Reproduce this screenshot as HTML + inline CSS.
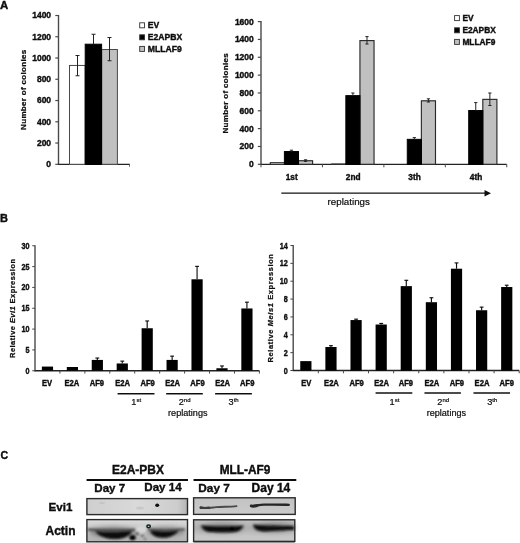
<!DOCTYPE html>
<html><head><meta charset="utf-8"><title>Figure</title>
<style>
html,body{margin:0;padding:0;background:#fff;}
body{width:520px;height:543px;overflow:hidden;font-family:"Liberation Sans",sans-serif;}
svg{display:block;}
svg text{font-family:"Liberation Sans",sans-serif;fill:#0a0a0a;}
svg text[font-weight="bold"]{stroke:#0a0a0a;stroke-width:0.35px;}
svg text.yt{stroke-width:0.22px;}
svg text[font-weight="normal"]{stroke:#0a0a0a;stroke-width:0.18px;}
</style></head>
<body>
<svg width="520" height="543" viewBox="0 0 520 543">
<defs>
<filter id="bl" x="-20%" y="-20%" width="140%" height="140%"><feGaussianBlur stdDeviation="0.5"/></filter>
<filter id="bl2" x="-20%" y="-40%" width="140%" height="180%"><feGaussianBlur stdDeviation="1.0"/></filter>
<filter id="bl3" x="-20%" y="-60%" width="140%" height="220%"><feGaussianBlur stdDeviation="2.2"/></filter>
<linearGradient id="gE1" x1="0" y1="0" x2="1" y2="0"><stop offset="0" stop-color="#cfcfcf"/><stop offset="0.5" stop-color="#d9d9d9"/><stop offset="0.9" stop-color="#cdcdcd"/><stop offset="1" stop-color="#b4b4b4"/></linearGradient>
<linearGradient id="gA1" x1="0" y1="0" x2="0" y2="1"><stop offset="0" stop-color="#dcdcdc"/><stop offset="0.45" stop-color="#c4c4c4"/><stop offset="1" stop-color="#b2b2b2"/></linearGradient>
<linearGradient id="gE2" x1="0" y1="0" x2="0" y2="1"><stop offset="0" stop-color="#c2c2c2"/><stop offset="1" stop-color="#cbcbcb"/></linearGradient>
<linearGradient id="gA2" x1="0" y1="0" x2="0" y2="1"><stop offset="0" stop-color="#c0c0c0"/><stop offset="0.35" stop-color="#b0b0b0"/><stop offset="0.7" stop-color="#c6c6c6"/><stop offset="0.93" stop-color="#c8c8c8"/><stop offset="0.94" stop-color="#a0a0a0"/><stop offset="1" stop-color="#a0a0a0"/></linearGradient>
<filter id="soft" x="0" y="0" width="100%" height="100%"><feGaussianBlur stdDeviation="0.35"/></filter>
</defs>
<rect x="0" y="0" width="520" height="543" fill="#fff"/>
<g filter="url(#soft)">
<text x="0.00" y="8.50" font-size="11.4" font-weight="bold" text-anchor="start" >A</text>
<line x1="58.50" y1="15.00" x2="58.50" y2="164.80" stroke="#4a4a4a" stroke-width="1.4"/>
<line x1="58.00" y1="164.30" x2="129.80" y2="164.30" stroke="#222" stroke-width="1.3"/>
<line x1="55.30" y1="164.30" x2="58.50" y2="164.30" stroke="#4a4a4a" stroke-width="1.2"/>
<text x="51.10" y="167.20" font-size="8.5" font-weight="bold" text-anchor="end" >0</text>
<line x1="55.30" y1="143.04" x2="58.50" y2="143.04" stroke="#4a4a4a" stroke-width="1.2"/>
<text x="51.10" y="145.94" font-size="8.5" font-weight="bold" text-anchor="end" >200</text>
<line x1="55.30" y1="121.79" x2="58.50" y2="121.79" stroke="#4a4a4a" stroke-width="1.2"/>
<text x="51.10" y="124.69" font-size="8.5" font-weight="bold" text-anchor="end" >400</text>
<line x1="55.30" y1="100.53" x2="58.50" y2="100.53" stroke="#4a4a4a" stroke-width="1.2"/>
<text x="51.10" y="103.43" font-size="8.5" font-weight="bold" text-anchor="end" >600</text>
<line x1="55.30" y1="79.27" x2="58.50" y2="79.27" stroke="#4a4a4a" stroke-width="1.2"/>
<text x="51.10" y="82.17" font-size="8.5" font-weight="bold" text-anchor="end" >800</text>
<line x1="55.30" y1="58.01" x2="58.50" y2="58.01" stroke="#4a4a4a" stroke-width="1.2"/>
<text x="51.10" y="60.91" font-size="8.5" font-weight="bold" text-anchor="end" >1000</text>
<line x1="55.30" y1="36.76" x2="58.50" y2="36.76" stroke="#4a4a4a" stroke-width="1.2"/>
<text x="51.10" y="39.66" font-size="8.5" font-weight="bold" text-anchor="end" >1200</text>
<line x1="55.30" y1="15.50" x2="58.50" y2="15.50" stroke="#4a4a4a" stroke-width="1.2"/>
<text x="51.10" y="18.40" font-size="8.5" font-weight="bold" text-anchor="end" >1400</text>
<line x1="129.50" y1="164.30" x2="129.50" y2="166.80" stroke="#4a4a4a" stroke-width="0.8"/>
<rect x="69.50" y="65.45" width="15.70" height="98.85" fill="#fff" stroke="#4a4a4a" stroke-width="1.0"/>
<rect x="101.60" y="49.51" width="15.80" height="114.79" fill="#c0c0c0" stroke="#4a4a4a" stroke-width="1.0"/>
<rect x="85.20" y="44.20" width="16.40" height="120.10" fill="#000" stroke="#000" stroke-width="1.0"/>
<line x1="77.50" y1="55.50" x2="77.50" y2="75.75" stroke="#222" stroke-width="1.0"/>
<line x1="75.50" y1="55.50" x2="79.50" y2="55.50" stroke="#222" stroke-width="1.0"/>
<line x1="75.50" y1="75.75" x2="79.50" y2="75.75" stroke="#222" stroke-width="1.0"/>
<line x1="93.50" y1="34.25" x2="93.50" y2="44.50" stroke="#222" stroke-width="1.0"/>
<line x1="91.50" y1="34.25" x2="95.50" y2="34.25" stroke="#222" stroke-width="1.0"/>
<line x1="109.50" y1="37.50" x2="109.50" y2="60.75" stroke="#222" stroke-width="1.0"/>
<line x1="107.50" y1="37.50" x2="111.50" y2="37.50" stroke="#222" stroke-width="1.0"/>
<line x1="107.50" y1="60.75" x2="111.50" y2="60.75" stroke="#222" stroke-width="1.0"/>
<text transform="translate(26.0,89.70) rotate(-90)" font-size="8.05" font-weight="bold" text-anchor="middle" letter-spacing="0.3" class="yt">Number of colonies</text>
<rect x="139.70" y="22.80" width="4.80" height="5.00" fill="#fff" stroke="#333" stroke-width="0.9"/>
<text x="147.80" y="28.40" font-size="8.6" font-weight="bold" text-anchor="start" >EV</text>
<rect x="139.70" y="34.80" width="4.80" height="5.00" fill="#000" stroke="#333" stroke-width="0.9"/>
<text x="147.80" y="40.40" font-size="8.6" font-weight="bold" text-anchor="start" >E2APBX</text>
<rect x="139.70" y="46.40" width="4.80" height="5.00" fill="#c0c0c0" stroke="#333" stroke-width="0.9"/>
<text x="147.80" y="52.00" font-size="8.6" font-weight="bold" text-anchor="start" >MLLAF9</text>
<line x1="261.00" y1="21.10" x2="261.00" y2="164.80" stroke="#4a4a4a" stroke-width="1.4"/>
<line x1="260.50" y1="164.30" x2="506.75" y2="164.30" stroke="#222" stroke-width="1.3"/>
<line x1="257.80" y1="164.30" x2="261.00" y2="164.30" stroke="#4a4a4a" stroke-width="1.2"/>
<text x="253.80" y="167.20" font-size="8.5" font-weight="bold" text-anchor="end" >0</text>
<line x1="257.80" y1="146.46" x2="261.00" y2="146.46" stroke="#4a4a4a" stroke-width="1.2"/>
<text x="253.80" y="149.36" font-size="8.5" font-weight="bold" text-anchor="end" >200</text>
<line x1="257.80" y1="128.62" x2="261.00" y2="128.62" stroke="#4a4a4a" stroke-width="1.2"/>
<text x="253.80" y="131.53" font-size="8.5" font-weight="bold" text-anchor="end" >400</text>
<line x1="257.80" y1="110.79" x2="261.00" y2="110.79" stroke="#4a4a4a" stroke-width="1.2"/>
<text x="253.80" y="113.69" font-size="8.5" font-weight="bold" text-anchor="end" >600</text>
<line x1="257.80" y1="92.95" x2="261.00" y2="92.95" stroke="#4a4a4a" stroke-width="1.2"/>
<text x="253.80" y="95.85" font-size="8.5" font-weight="bold" text-anchor="end" >800</text>
<line x1="257.80" y1="75.11" x2="261.00" y2="75.11" stroke="#4a4a4a" stroke-width="1.2"/>
<text x="253.80" y="78.01" font-size="8.5" font-weight="bold" text-anchor="end" >1000</text>
<line x1="257.80" y1="57.27" x2="261.00" y2="57.27" stroke="#4a4a4a" stroke-width="1.2"/>
<text x="253.80" y="60.17" font-size="8.5" font-weight="bold" text-anchor="end" >1200</text>
<line x1="257.80" y1="39.44" x2="261.00" y2="39.44" stroke="#4a4a4a" stroke-width="1.2"/>
<text x="253.80" y="42.34" font-size="8.5" font-weight="bold" text-anchor="end" >1400</text>
<line x1="257.80" y1="21.60" x2="261.00" y2="21.60" stroke="#4a4a4a" stroke-width="1.2"/>
<text x="253.80" y="24.50" font-size="8.5" font-weight="bold" text-anchor="end" >1600</text>
<line x1="261.00" y1="164.30" x2="261.00" y2="167.30" stroke="#4a4a4a" stroke-width="1"/>
<line x1="322.44" y1="164.30" x2="322.44" y2="167.30" stroke="#4a4a4a" stroke-width="1"/>
<line x1="383.88" y1="164.30" x2="383.88" y2="167.30" stroke="#4a4a4a" stroke-width="1"/>
<line x1="445.31" y1="164.30" x2="445.31" y2="167.30" stroke="#4a4a4a" stroke-width="1"/>
<line x1="506.75" y1="164.30" x2="506.75" y2="167.30" stroke="#4a4a4a" stroke-width="1"/>
<text transform="translate(228.0,93.25) rotate(-90)" font-size="8.05" font-weight="bold" text-anchor="middle" letter-spacing="0.3" class="yt">Number of colonies</text>
<rect x="270.30" y="162.69" width="14.10" height="1.61" fill="#fff" stroke="#2a2a2a" stroke-width="1.1"/>
<rect x="298.50" y="160.73" width="14.10" height="3.57" fill="#c0c0c0" stroke="#2a2a2a" stroke-width="1.15"/>
<rect x="284.40" y="151.55" width="14.10" height="12.75" fill="#000" stroke="#000" stroke-width="1.0"/>
<line x1="291.45" y1="150.20" x2="291.45" y2="152.00" stroke="#222" stroke-width="1.0"/>
<line x1="289.85" y1="150.20" x2="293.05" y2="150.20" stroke="#222" stroke-width="1.0"/>
<line x1="305.55" y1="159.80" x2="305.55" y2="161.40" stroke="#222" stroke-width="1.0"/>
<line x1="303.95" y1="159.80" x2="307.15" y2="159.80" stroke="#222" stroke-width="1.0"/>
<line x1="303.95" y1="161.40" x2="307.15" y2="161.40" stroke="#222" stroke-width="1.0"/>
<text x="291.72" y="180.40" font-size="8.3" font-weight="bold" text-anchor="middle" >1st</text>
<rect x="331.74" y="164.03" width="14.10" height="0.27" fill="#fff" stroke="#2a2a2a" stroke-width="1.1"/>
<rect x="359.94" y="40.60" width="14.10" height="123.70" fill="#c0c0c0" stroke="#2a2a2a" stroke-width="1.15"/>
<rect x="345.84" y="95.63" width="14.10" height="68.67" fill="#000" stroke="#000" stroke-width="1.0"/>
<line x1="352.89" y1="93.00" x2="352.89" y2="96.00" stroke="#222" stroke-width="1.0"/>
<line x1="351.29" y1="93.00" x2="354.49" y2="93.00" stroke="#222" stroke-width="1.0"/>
<line x1="366.99" y1="36.60" x2="366.99" y2="44.00" stroke="#222" stroke-width="1.0"/>
<line x1="365.39" y1="36.60" x2="368.59" y2="36.60" stroke="#222" stroke-width="1.0"/>
<line x1="365.39" y1="44.00" x2="368.59" y2="44.00" stroke="#222" stroke-width="1.0"/>
<text x="353.16" y="180.40" font-size="8.3" font-weight="bold" text-anchor="middle" >2nd</text>
<rect x="421.38" y="100.80" width="14.10" height="63.50" fill="#c0c0c0" stroke="#2a2a2a" stroke-width="1.15"/>
<rect x="407.28" y="139.33" width="14.10" height="24.97" fill="#000" stroke="#000" stroke-width="1.0"/>
<line x1="414.32" y1="137.60" x2="414.32" y2="140.00" stroke="#222" stroke-width="1.0"/>
<line x1="412.72" y1="137.60" x2="415.93" y2="137.60" stroke="#222" stroke-width="1.0"/>
<line x1="428.43" y1="98.80" x2="428.43" y2="102.00" stroke="#222" stroke-width="1.0"/>
<line x1="426.82" y1="98.80" x2="430.03" y2="98.80" stroke="#222" stroke-width="1.0"/>
<line x1="426.82" y1="102.00" x2="430.03" y2="102.00" stroke="#222" stroke-width="1.0"/>
<text x="414.59" y="180.40" font-size="8.3" font-weight="bold" text-anchor="middle" >3th</text>
<rect x="482.81" y="99.37" width="14.10" height="64.93" fill="#c0c0c0" stroke="#2a2a2a" stroke-width="1.15"/>
<rect x="468.71" y="110.52" width="14.10" height="53.78" fill="#000" stroke="#000" stroke-width="1.0"/>
<line x1="475.76" y1="102.60" x2="475.76" y2="111.00" stroke="#222" stroke-width="1.0"/>
<line x1="474.16" y1="102.60" x2="477.36" y2="102.60" stroke="#222" stroke-width="1.0"/>
<line x1="489.86" y1="93.00" x2="489.86" y2="105.50" stroke="#222" stroke-width="1.0"/>
<line x1="488.26" y1="93.00" x2="491.46" y2="93.00" stroke="#222" stroke-width="1.0"/>
<line x1="488.26" y1="105.50" x2="491.46" y2="105.50" stroke="#222" stroke-width="1.0"/>
<text x="476.03" y="180.40" font-size="8.3" font-weight="bold" text-anchor="middle" >4th</text>
<rect x="454.60" y="15.60" width="4.80" height="5.00" fill="#fff" stroke="#333" stroke-width="0.9"/>
<text x="462.40" y="21.20" font-size="8.35" font-weight="bold" text-anchor="start" >EV</text>
<rect x="454.60" y="27.80" width="4.80" height="5.00" fill="#000" stroke="#333" stroke-width="0.9"/>
<text x="462.40" y="33.40" font-size="8.35" font-weight="bold" text-anchor="start" >E2APBX</text>
<rect x="454.60" y="39.40" width="4.80" height="5.00" fill="#c0c0c0" stroke="#333" stroke-width="0.9"/>
<text x="462.40" y="45.00" font-size="8.35" font-weight="bold" text-anchor="start" >MLLAF9</text>
<line x1="281.30" y1="193.20" x2="486.00" y2="193.20" stroke="#111" stroke-width="1.2"/>
<polygon points="484.5,190.0 491,193.2 484.5,196.5" fill="#111"/>
<text x="327.60" y="204.80" font-size="9.75" font-weight="normal" text-anchor="start" >replatings</text>
<text x="0.10" y="221.80" font-size="11" font-weight="bold" text-anchor="start" >B</text>
<line x1="35.00" y1="245.25" x2="35.00" y2="371.25" stroke="#4a4a4a" stroke-width="1.4"/>
<line x1="34.50" y1="370.75" x2="259.40" y2="370.75" stroke="#222" stroke-width="1.3"/>
<line x1="32.20" y1="370.75" x2="35.00" y2="370.75" stroke="#4a4a4a" stroke-width="1"/>
<text x="29.60" y="373.75" font-size="8.4" font-weight="bold" text-anchor="end"  textLength="4.02" lengthAdjust="spacingAndGlyphs">0</text>
<line x1="32.20" y1="349.92" x2="35.00" y2="349.92" stroke="#4a4a4a" stroke-width="1"/>
<text x="29.60" y="352.92" font-size="8.4" font-weight="bold" text-anchor="end"  textLength="4.02" lengthAdjust="spacingAndGlyphs">5</text>
<line x1="32.20" y1="329.08" x2="35.00" y2="329.08" stroke="#4a4a4a" stroke-width="1"/>
<text x="29.60" y="332.08" font-size="8.4" font-weight="bold" text-anchor="end"  textLength="8.04" lengthAdjust="spacingAndGlyphs">10</text>
<line x1="32.20" y1="308.25" x2="35.00" y2="308.25" stroke="#4a4a4a" stroke-width="1"/>
<text x="29.60" y="311.25" font-size="8.4" font-weight="bold" text-anchor="end"  textLength="8.04" lengthAdjust="spacingAndGlyphs">15</text>
<line x1="32.20" y1="287.42" x2="35.00" y2="287.42" stroke="#4a4a4a" stroke-width="1"/>
<text x="29.60" y="290.42" font-size="8.4" font-weight="bold" text-anchor="end"  textLength="8.04" lengthAdjust="spacingAndGlyphs">20</text>
<line x1="32.20" y1="266.58" x2="35.00" y2="266.58" stroke="#4a4a4a" stroke-width="1"/>
<text x="29.60" y="269.58" font-size="8.4" font-weight="bold" text-anchor="end"  textLength="8.04" lengthAdjust="spacingAndGlyphs">25</text>
<line x1="32.20" y1="245.75" x2="35.00" y2="245.75" stroke="#4a4a4a" stroke-width="1"/>
<text x="29.60" y="248.75" font-size="8.4" font-weight="bold" text-anchor="end"  textLength="8.04" lengthAdjust="spacingAndGlyphs">30</text>
<line x1="59.93" y1="370.75" x2="59.93" y2="373.55" stroke="#4a4a4a" stroke-width="1"/>
<line x1="84.87" y1="370.75" x2="84.87" y2="373.55" stroke="#4a4a4a" stroke-width="1"/>
<line x1="109.80" y1="370.75" x2="109.80" y2="373.55" stroke="#4a4a4a" stroke-width="1"/>
<line x1="134.73" y1="370.75" x2="134.73" y2="373.55" stroke="#4a4a4a" stroke-width="1"/>
<line x1="159.67" y1="370.75" x2="159.67" y2="373.55" stroke="#4a4a4a" stroke-width="1"/>
<line x1="184.60" y1="370.75" x2="184.60" y2="373.55" stroke="#4a4a4a" stroke-width="1"/>
<line x1="209.53" y1="370.75" x2="209.53" y2="373.55" stroke="#4a4a4a" stroke-width="1"/>
<line x1="234.47" y1="370.75" x2="234.47" y2="373.55" stroke="#4a4a4a" stroke-width="1"/>
<line x1="259.40" y1="370.75" x2="259.40" y2="373.55" stroke="#4a4a4a" stroke-width="1"/>
<rect x="41.87" y="366.58" width="11.20" height="4.17" fill="#000"/>
<text x="46.97" y="386.35" font-size="8.15" font-weight="bold" text-anchor="middle"  textLength="10.17" lengthAdjust="spacingAndGlyphs">EV</text>
<rect x="66.80" y="367.00" width="11.20" height="3.75" fill="#000"/>
<text x="71.90" y="386.35" font-size="8.15" font-weight="bold" text-anchor="middle"  textLength="14.82" lengthAdjust="spacingAndGlyphs">E2A</text>
<rect x="91.73" y="359.92" width="11.20" height="10.83" fill="#000"/>
<line x1="97.33" y1="358.04" x2="97.33" y2="359.92" stroke="#111" stroke-width="1.15"/>
<line x1="95.43" y1="358.04" x2="99.23" y2="358.04" stroke="#111" stroke-width="1.15"/>
<text x="96.83" y="386.35" font-size="8.15" font-weight="bold" text-anchor="middle"  textLength="14.40" lengthAdjust="spacingAndGlyphs">AF9</text>
<rect x="116.67" y="363.46" width="11.20" height="7.29" fill="#000"/>
<line x1="122.27" y1="361.17" x2="122.27" y2="363.46" stroke="#111" stroke-width="1.15"/>
<line x1="120.37" y1="361.17" x2="124.17" y2="361.17" stroke="#111" stroke-width="1.15"/>
<text x="122.67" y="386.35" font-size="8.15" font-weight="bold" text-anchor="middle"  textLength="14.82" lengthAdjust="spacingAndGlyphs">E2A</text>
<rect x="141.60" y="328.25" width="11.20" height="42.50" fill="#000"/>
<line x1="147.20" y1="320.96" x2="147.20" y2="328.25" stroke="#111" stroke-width="1.15"/>
<line x1="145.30" y1="320.96" x2="149.10" y2="320.96" stroke="#111" stroke-width="1.15"/>
<text x="147.60" y="386.35" font-size="8.15" font-weight="bold" text-anchor="middle"  textLength="14.40" lengthAdjust="spacingAndGlyphs">AF9</text>
<rect x="166.53" y="359.92" width="11.20" height="10.83" fill="#000"/>
<line x1="172.13" y1="356.17" x2="172.13" y2="359.92" stroke="#111" stroke-width="1.15"/>
<line x1="170.23" y1="356.17" x2="174.03" y2="356.17" stroke="#111" stroke-width="1.15"/>
<text x="172.63" y="386.35" font-size="8.15" font-weight="bold" text-anchor="middle"  textLength="14.82" lengthAdjust="spacingAndGlyphs">E2A</text>
<rect x="191.47" y="279.29" width="11.20" height="91.46" fill="#000"/>
<line x1="197.07" y1="266.38" x2="197.07" y2="279.29" stroke="#111" stroke-width="1.15"/>
<line x1="195.17" y1="266.38" x2="198.97" y2="266.38" stroke="#111" stroke-width="1.15"/>
<text x="197.57" y="386.35" font-size="8.15" font-weight="bold" text-anchor="middle"  textLength="14.40" lengthAdjust="spacingAndGlyphs">AF9</text>
<rect x="216.40" y="368.25" width="11.20" height="2.50" fill="#000"/>
<line x1="222.00" y1="365.96" x2="222.00" y2="368.25" stroke="#111" stroke-width="1.15"/>
<line x1="220.10" y1="365.96" x2="223.90" y2="365.96" stroke="#111" stroke-width="1.15"/>
<text x="222.60" y="386.35" font-size="8.15" font-weight="bold" text-anchor="middle"  textLength="14.82" lengthAdjust="spacingAndGlyphs">E2A</text>
<rect x="241.33" y="308.46" width="11.20" height="62.29" fill="#000"/>
<line x1="246.93" y1="302.21" x2="246.93" y2="308.46" stroke="#111" stroke-width="1.15"/>
<line x1="245.03" y1="302.21" x2="248.83" y2="302.21" stroke="#111" stroke-width="1.15"/>
<text x="247.23" y="386.35" font-size="8.15" font-weight="bold" text-anchor="middle"  textLength="14.40" lengthAdjust="spacingAndGlyphs">AF9</text>
<line x1="117.60" y1="393.75" x2="154.50" y2="393.75" stroke="#111" stroke-width="1.5"/>
<text x="136.15" y="405.35" font-size="9.2" font-weight="normal" text-anchor="middle">1<tspan font-size="6.0" dy="-2.9">st</tspan></text>
<line x1="166.20" y1="393.75" x2="202.80" y2="393.75" stroke="#111" stroke-width="1.5"/>
<text x="184.60" y="405.35" font-size="9.2" font-weight="normal" text-anchor="middle">2<tspan font-size="6.0" dy="-2.9">nd</tspan></text>
<line x1="215.10" y1="393.75" x2="251.90" y2="393.75" stroke="#111" stroke-width="1.5"/>
<text x="233.60" y="405.35" font-size="9.2" font-weight="normal" text-anchor="middle">3<tspan font-size="6.0" dy="-2.9">th</tspan></text>
<text x="187.80" y="416.35" font-size="9.1" font-weight="normal" text-anchor="middle" >replatings</text>
<text transform="translate(15.2,308.25) rotate(-90)" font-size="7.45" font-weight="bold" text-anchor="middle" letter-spacing="0.47" class="yt">Relative <tspan font-style="italic">Evi1</tspan> Expression</text>
<line x1="293.20" y1="245.00" x2="293.20" y2="371.00" stroke="#4a4a4a" stroke-width="1.4"/>
<line x1="292.70" y1="370.50" x2="519.20" y2="370.50" stroke="#222" stroke-width="1.3"/>
<line x1="290.40" y1="370.50" x2="293.20" y2="370.50" stroke="#4a4a4a" stroke-width="1"/>
<text x="287.80" y="373.50" font-size="8.4" font-weight="bold" text-anchor="end"  textLength="4.02" lengthAdjust="spacingAndGlyphs">0</text>
<line x1="290.40" y1="352.64" x2="293.20" y2="352.64" stroke="#4a4a4a" stroke-width="1"/>
<text x="287.80" y="355.64" font-size="8.4" font-weight="bold" text-anchor="end"  textLength="4.02" lengthAdjust="spacingAndGlyphs">2</text>
<line x1="290.40" y1="334.79" x2="293.20" y2="334.79" stroke="#4a4a4a" stroke-width="1"/>
<text x="287.80" y="337.79" font-size="8.4" font-weight="bold" text-anchor="end"  textLength="4.02" lengthAdjust="spacingAndGlyphs">4</text>
<line x1="290.40" y1="316.93" x2="293.20" y2="316.93" stroke="#4a4a4a" stroke-width="1"/>
<text x="287.80" y="319.93" font-size="8.4" font-weight="bold" text-anchor="end"  textLength="4.02" lengthAdjust="spacingAndGlyphs">6</text>
<line x1="290.40" y1="299.07" x2="293.20" y2="299.07" stroke="#4a4a4a" stroke-width="1"/>
<text x="287.80" y="302.07" font-size="8.4" font-weight="bold" text-anchor="end"  textLength="4.02" lengthAdjust="spacingAndGlyphs">8</text>
<line x1="290.40" y1="281.21" x2="293.20" y2="281.21" stroke="#4a4a4a" stroke-width="1"/>
<text x="287.80" y="284.21" font-size="8.4" font-weight="bold" text-anchor="end"  textLength="8.04" lengthAdjust="spacingAndGlyphs">10</text>
<line x1="290.40" y1="263.36" x2="293.20" y2="263.36" stroke="#4a4a4a" stroke-width="1"/>
<text x="287.80" y="266.36" font-size="8.4" font-weight="bold" text-anchor="end"  textLength="8.04" lengthAdjust="spacingAndGlyphs">12</text>
<line x1="290.40" y1="245.50" x2="293.20" y2="245.50" stroke="#4a4a4a" stroke-width="1"/>
<text x="287.80" y="248.50" font-size="8.4" font-weight="bold" text-anchor="end"  textLength="8.04" lengthAdjust="spacingAndGlyphs">14</text>
<line x1="318.31" y1="370.50" x2="318.31" y2="373.30" stroke="#4a4a4a" stroke-width="1"/>
<line x1="343.42" y1="370.50" x2="343.42" y2="373.30" stroke="#4a4a4a" stroke-width="1"/>
<line x1="368.53" y1="370.50" x2="368.53" y2="373.30" stroke="#4a4a4a" stroke-width="1"/>
<line x1="393.64" y1="370.50" x2="393.64" y2="373.30" stroke="#4a4a4a" stroke-width="1"/>
<line x1="418.76" y1="370.50" x2="418.76" y2="373.30" stroke="#4a4a4a" stroke-width="1"/>
<line x1="443.87" y1="370.50" x2="443.87" y2="373.30" stroke="#4a4a4a" stroke-width="1"/>
<line x1="468.98" y1="370.50" x2="468.98" y2="373.30" stroke="#4a4a4a" stroke-width="1"/>
<line x1="494.09" y1="370.50" x2="494.09" y2="373.30" stroke="#4a4a4a" stroke-width="1"/>
<line x1="519.20" y1="370.50" x2="519.20" y2="373.30" stroke="#4a4a4a" stroke-width="1"/>
<rect x="300.26" y="361.12" width="11.20" height="9.38" fill="#000"/>
<text x="306.36" y="386.10" font-size="8.15" font-weight="bold" text-anchor="middle"  textLength="10.17" lengthAdjust="spacingAndGlyphs">EV</text>
<rect x="325.37" y="347.02" width="11.20" height="23.48" fill="#000"/>
<line x1="330.97" y1="345.68" x2="330.97" y2="347.02" stroke="#111" stroke-width="1.15"/>
<line x1="329.07" y1="345.68" x2="332.87" y2="345.68" stroke="#111" stroke-width="1.15"/>
<text x="331.47" y="386.10" font-size="8.15" font-weight="bold" text-anchor="middle"  textLength="14.82" lengthAdjust="spacingAndGlyphs">E2A</text>
<rect x="350.48" y="320.05" width="11.20" height="50.45" fill="#000"/>
<line x1="356.08" y1="319.16" x2="356.08" y2="320.05" stroke="#111" stroke-width="1.15"/>
<line x1="354.18" y1="319.16" x2="357.98" y2="319.16" stroke="#111" stroke-width="1.15"/>
<text x="356.58" y="386.10" font-size="8.15" font-weight="bold" text-anchor="middle"  textLength="14.40" lengthAdjust="spacingAndGlyphs">AF9</text>
<rect x="375.59" y="324.52" width="11.20" height="45.98" fill="#000"/>
<line x1="381.19" y1="323.45" x2="381.19" y2="324.52" stroke="#111" stroke-width="1.15"/>
<line x1="379.29" y1="323.45" x2="383.09" y2="323.45" stroke="#111" stroke-width="1.15"/>
<text x="381.59" y="386.10" font-size="8.15" font-weight="bold" text-anchor="middle"  textLength="14.82" lengthAdjust="spacingAndGlyphs">E2A</text>
<rect x="400.70" y="286.12" width="11.20" height="84.38" fill="#000"/>
<line x1="406.30" y1="280.32" x2="406.30" y2="286.12" stroke="#111" stroke-width="1.15"/>
<line x1="404.40" y1="280.32" x2="408.20" y2="280.32" stroke="#111" stroke-width="1.15"/>
<text x="405.90" y="386.10" font-size="8.15" font-weight="bold" text-anchor="middle"  textLength="14.40" lengthAdjust="spacingAndGlyphs">AF9</text>
<rect x="425.81" y="302.20" width="11.20" height="68.30" fill="#000"/>
<line x1="431.41" y1="297.73" x2="431.41" y2="302.20" stroke="#111" stroke-width="1.15"/>
<line x1="429.51" y1="297.73" x2="433.31" y2="297.73" stroke="#111" stroke-width="1.15"/>
<text x="431.81" y="386.10" font-size="8.15" font-weight="bold" text-anchor="middle"  textLength="14.82" lengthAdjust="spacingAndGlyphs">E2A</text>
<rect x="450.92" y="268.71" width="11.20" height="101.79" fill="#000"/>
<line x1="456.52" y1="262.91" x2="456.52" y2="268.71" stroke="#111" stroke-width="1.15"/>
<line x1="454.62" y1="262.91" x2="458.42" y2="262.91" stroke="#111" stroke-width="1.15"/>
<text x="456.92" y="386.10" font-size="8.15" font-weight="bold" text-anchor="middle"  textLength="14.40" lengthAdjust="spacingAndGlyphs">AF9</text>
<rect x="476.03" y="310.23" width="11.20" height="60.27" fill="#000"/>
<line x1="481.63" y1="307.11" x2="481.63" y2="310.23" stroke="#111" stroke-width="1.15"/>
<line x1="479.73" y1="307.11" x2="483.53" y2="307.11" stroke="#111" stroke-width="1.15"/>
<text x="482.03" y="386.10" font-size="8.15" font-weight="bold" text-anchor="middle"  textLength="14.82" lengthAdjust="spacingAndGlyphs">E2A</text>
<rect x="501.14" y="287.02" width="11.20" height="83.48" fill="#000"/>
<line x1="506.74" y1="285.23" x2="506.74" y2="287.02" stroke="#111" stroke-width="1.15"/>
<line x1="504.84" y1="285.23" x2="508.64" y2="285.23" stroke="#111" stroke-width="1.15"/>
<text x="506.74" y="386.10" font-size="8.15" font-weight="bold" text-anchor="middle"  textLength="14.40" lengthAdjust="spacingAndGlyphs">AF9</text>
<line x1="375.60" y1="392.90" x2="412.30" y2="392.90" stroke="#111" stroke-width="1.5"/>
<text x="394.45" y="404.50" font-size="9.2" font-weight="normal" text-anchor="middle">1<tspan font-size="6.0" dy="-2.9">st</tspan></text>
<line x1="424.50" y1="392.90" x2="460.90" y2="392.90" stroke="#111" stroke-width="1.5"/>
<text x="443.20" y="404.50" font-size="9.2" font-weight="normal" text-anchor="middle">2<tspan font-size="6.0" dy="-2.9">nd</tspan></text>
<line x1="473.50" y1="392.90" x2="510.00" y2="392.90" stroke="#111" stroke-width="1.5"/>
<text x="492.25" y="404.50" font-size="9.2" font-weight="normal" text-anchor="middle">3<tspan font-size="6.0" dy="-2.9">th</tspan></text>
<text x="446.37" y="415.62" font-size="9.1" font-weight="normal" text-anchor="middle" >replatings</text>
<text transform="translate(273.3,308.00) rotate(-90)" font-size="7.45" font-weight="bold" text-anchor="middle" letter-spacing="0.62" class="yt">Relative <tspan font-style="italic">Meis1</tspan> Expression</text>
<text x="0.40" y="458.90" font-size="10.6" font-weight="bold" text-anchor="start" >C</text>
<text x="138.00" y="473.80" font-size="12.0" font-weight="bold" text-anchor="middle" >E2A-PBX</text>
<text x="245.00" y="473.80" font-size="11.85" font-weight="bold" text-anchor="middle" >MLL-AF9</text>
<line x1="86.60" y1="480.00" x2="188.00" y2="480.00" stroke="#111" stroke-width="2.0"/>
<line x1="193.50" y1="480.00" x2="296.30" y2="480.00" stroke="#111" stroke-width="2.0"/>
<text x="94.30" y="492.40" font-size="11.6" font-weight="bold" text-anchor="start" >Day 7</text>
<text x="144.30" y="491.10" font-size="11.6" font-weight="bold" text-anchor="start" >Day 14</text>
<text x="198.30" y="492.30" font-size="11.8" font-weight="bold" text-anchor="start" >Day 7</text>
<text x="251.60" y="492.20" font-size="12.0" font-weight="bold" text-anchor="start" >Day 14</text>
<text x="48.60" y="510.70" font-size="11.6" font-weight="bold" text-anchor="start" >Evi1</text>
<text x="45.50" y="535.20" font-size="12" font-weight="bold" text-anchor="start" >Actin</text>
<rect x="86.90" y="498.60" width="100.60" height="16.00" fill="url(#gE1)"/>
<g filter="url(#bl)">
<ellipse cx="157.2" cy="505.2" rx="2.0" ry="1.7" fill="#111"/>
<ellipse cx="102" cy="503" rx="3" ry="1" fill="#c4c4c4"/>
<ellipse cx="140" cy="508" rx="4" ry="1.5" fill="#c8c8c8"/>
</g>
<rect x="86.90" y="498.60" width="100.60" height="16.00" fill="none" stroke="#2a2a2a" stroke-width="1.4"/>
<rect x="86.90" y="519.60" width="100.60" height="22.20" fill="url(#gA1)"/>
<g filter="url(#bl3)">
<ellipse cx="113" cy="532" rx="24" ry="5.5" fill="#555" opacity="0.55"/>
<ellipse cx="166" cy="531.5" rx="19" ry="5" fill="#555" opacity="0.5"/>
</g>
<g filter="url(#bl2)">
<path d="M88.5,529.6 C100,530.4 120,530.2 136,529.8" stroke="#4a4a4a" stroke-width="2.2" fill="none" stroke-linecap="round"/>
<path d="M95,531.2 C105,532 122,532 132,531 C130,535.6 125,538.7 116,538.9 C106,539.1 98.5,535.8 95,531.2 Z" fill="#080808"/>
<path d="M148,529.2 C158,530.6 172,530.4 184,529.6" stroke="#4a4a4a" stroke-width="2.0" fill="none" stroke-linecap="round"/>
<path d="M150,530.6 C158,531.8 170,531.6 179,530.4 C176,534 171,537.6 162.5,537.8 C155,538 151.5,534.5 150,530.6 Z" fill="#0c0c0c"/>
<ellipse cx="141" cy="529.5" rx="5.5" ry="3.6" fill="#d6d6d6"/>
<ellipse cx="132.6" cy="537.6" rx="3.2" ry="2.6" fill="#050505"/>
<ellipse cx="137.5" cy="533.2" rx="1.6" ry="1.2" fill="#222"/>
<ellipse cx="142.5" cy="535.5" rx="1.2" ry="0.9" fill="#222"/>
<ellipse cx="145" cy="539" rx="1.2" ry="0.8" fill="#333"/>
</g>
<g filter="url(#bl)">
<ellipse cx="148.6" cy="526.3" rx="1.7" ry="1.35" fill="#f4fffb" stroke="#0b241c" stroke-width="1.6"/>
</g>
<rect x="86.90" y="519.60" width="100.60" height="22.20" fill="none" stroke="#2a2a2a" stroke-width="1.4"/>
<rect x="193.60" y="497.80" width="101.60" height="16.60" fill="url(#gE2)"/>
<g filter="url(#bl)">
<path d="M200.6,507.5 C205,508.6 210,507.7 216,507.1 C224,506.6 230,506.9 236.5,506.1" stroke="#484848" stroke-width="1.9" fill="none" stroke-linecap="round"/>
<path d="M200.8,507.7 C203,508.4 206,508.3 209,507.9" stroke="#3a3a3a" stroke-width="2.6" fill="none" stroke-linecap="round"/>
<path d="M251.2,505.8 C254,506.2 258,505 264,504.7 C272,504.3 281,504.6 288.8,504.8" stroke="#262626" stroke-width="2.3" fill="none" stroke-linecap="round"/>
<path d="M251.2,506 C253,506.6 255,506.2 257,505.6" stroke="#262626" stroke-width="2.8" fill="none" stroke-linecap="round"/>
</g>
<rect x="193.60" y="497.80" width="101.60" height="16.60" fill="none" stroke="#2a2a2a" stroke-width="1.4"/>
<rect x="193.60" y="519.80" width="101.20" height="23.20" fill="url(#gA2)"/>
<g filter="url(#bl3)">
<ellipse cx="222" cy="528" rx="22" ry="5" fill="#555" opacity="0.45"/>
<ellipse cx="274" cy="527.5" rx="21" ry="5" fill="#555" opacity="0.45"/>
</g>
<g filter="url(#bl2)">
<path d="M200.8,525.6 C212,526.6 232,526.6 243.8,525.4 C242,529 239,532 232,532.2 C222,532.6 212,532.8 207,531.6 C204,530.4 202,528 200.8,525.6 Z" fill="#101010"/>
<ellipse cx="231.6" cy="528.4" rx="2.4" ry="1.8" fill="#000"/>
<path d="M253,524.4 C262,525.6 280,525.6 294,526.2 L294,530 C288,529.8 280,530.6 272,531 C264,531.8 258,531.6 255.5,529 C254.2,527.6 253.4,526 253,524.4 Z" fill="#0e0e0e"/>
</g>
<rect x="193.60" y="519.80" width="101.20" height="21.60" fill="none" stroke="#2a2a2a" stroke-width="1.4"/>
</g>
</svg>
</body></html>
